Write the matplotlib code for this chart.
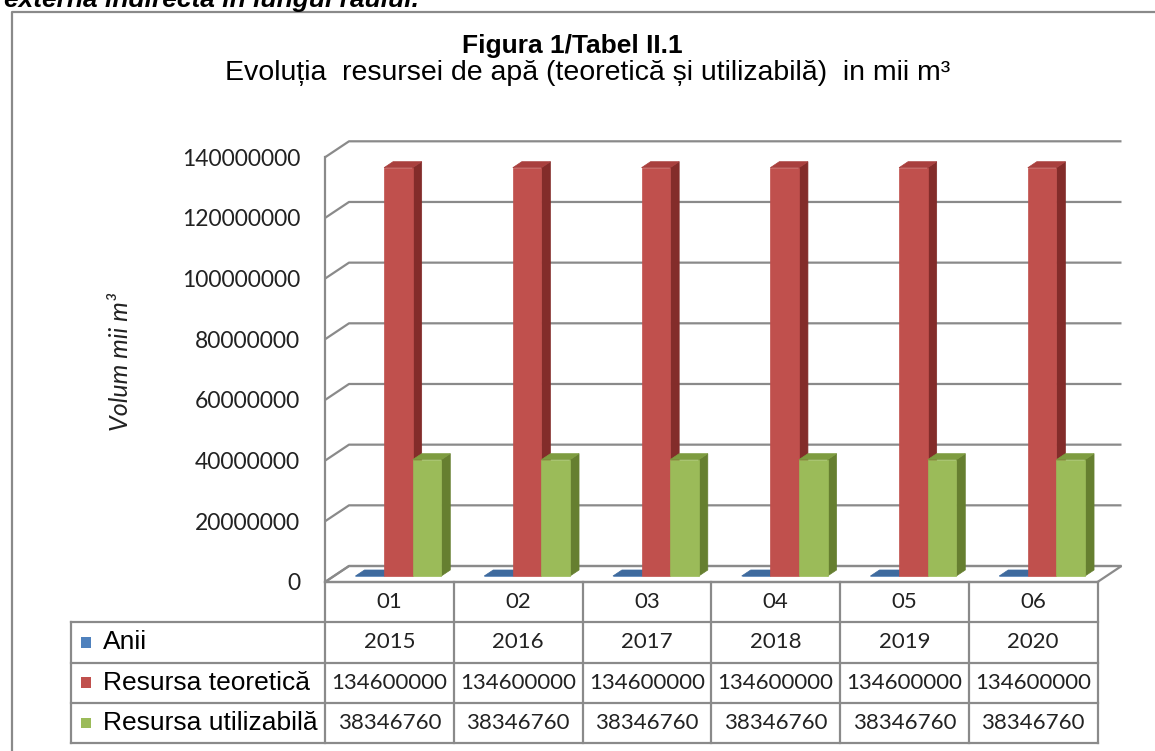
import matplotlib.pyplot as plt
from matplotlib.patches import Polygon, Rectangle

# date
categorii = ["01", "02", "03", "04", "05", "06"]
anii = [2015, 2016, 2017, 2018, 2019, 2020]
resursa_teoretica = [134600000, 134600000, 134600000, 134600000, 134600000, 134600000]
resursa_utilizabila = [38346760, 38346760, 38346760, 38346760, 38346760, 38346760]
serii = ["Anii", "Resursa teoretică", "Resursa utilizabilă"]
y_ticks = list(range(0, 140000001, 20000000))

# culori (fata, lateral, sus)
culori = [
    ("#4F81BD", "#385D8A", "#3E6A9E"),
    ("#C0504D", "#832C2A", "#A9403E"),
    ("#9BBB59", "#667F30", "#7E9C40"),
]
GRI = "#8a8a8a"

W, H = 1155, 751
fig = plt.figure(figsize=(W / 100, H / 100), dpi=100)


def fx(px):
    return px / W


def fy(py):
    return 1 - py / H


# chenarul exterior
fig.add_artist(plt.Line2D([fx(12), fx(12), fx(1160)], [fy(760), fy(12), fy(12)],
                          color=GRI, lw=1.6))
fig.text(fx(4), fy(7), "externă indirectă în lungul râului.", fontsize=19,
         family="Liberation Sans", style="italic", weight="bold", va="baseline")

# titlu
fig.text(fx(572), fy(46), "Figura 1/Tabel II.1", ha="center", va="center",
         fontsize=19, weight="bold", family=["Liberation Sans Narrow", "Liberation Sans"])
fig.text(fx(588), fy(73), "Evoluția  resursei de apă (teoretică și utilizabilă)  in mii m³",
         ha="center", va="center", fontsize=20.5, family="Liberation Sans")

# zona graficului 3D
X0, X1, Y0, YT = 325, 1097.5, 582, 157.3
ax = fig.add_axes([fx(X0), fy(Y0), fx(X1 - X0), (Y0 - YT) / H])
n = len(categorii)
ymax = y_ticks[-1]
ax.set_xlim(0, n)
ax.set_ylim(0, ymax)
ax.set_facecolor("none")
for s in ax.spines.values():
    s.set_visible(False)
ax.set_xticks([])
ax.set_yticks(y_ticks)
ax.set_yticklabels([str(v) for v in y_ticks], family="Lato", fontsize=16.5, color="#222222")
ax.tick_params(axis="y", length=0, pad=18)

# adancimea peretilor in unitati de date
px_x = (X1 - X0) / n
px_y = (Y0 - YT) / ymax
DX = 24 / px_x
DY = 16 / px_y

# podea
ax.add_patch(Polygon([(0, 0), (n, 0), (n + DX, DY), (DX, DY)], closed=True,
                     facecolor="white", edgecolor=GRI, lw=1.6, clip_on=False, zorder=1))
# linii de grila pe peretele lateral si cel din spate
for v in y_ticks:
    ax.plot([0, DX, n + DX], [v, v + DY, v + DY], color=GRI, lw=1.6,
            clip_on=False, zorder=1, solid_capstyle="butt")
ax.plot([0, 0], [0, ymax], color=GRI, lw=1.6, clip_on=False, zorder=1)


def bara3d(x0, w, v, d0, d1, c):
    ox0, oy0, ox1, oy1 = d0 * DX, d0 * DY, d1 * DX, d1 * DY
    fata = [(x0 + ox0, oy0), (x0 + w + ox0, oy0), (x0 + w + ox0, v + oy0), (x0 + ox0, v + oy0)]
    lat = [(x0 + w + ox0, oy0), (x0 + w + ox1, oy1), (x0 + w + ox1, v + oy1), (x0 + w + ox0, v + oy0)]
    sus = [(x0 + ox0, v + oy0), (x0 + w + ox0, v + oy0), (x0 + w + ox1, v + oy1), (x0 + ox1, v + oy1)]
    for pts, col in ((lat, c[1]), (fata, c[0]), (sus, c[2])):
        ax.add_patch(Polygon(pts, closed=True, facecolor=col, edgecolor=col, lw=0.5,
                             clip_on=False, zorder=3))


w = 1 / 4.5
valori = [anii, resursa_teoretica, resursa_utilizabila]
for i in range(n):
    for j, serie in enumerate(valori):
        x0 = i + 0.5 - 1.5 * w + j * w
        bara3d(x0, w, serie[i], 0.375, 0.75, culori[j])

fig.text(fx(121), fy(362), "Volum mii m³", rotation=90, ha="center", va="center",
         fontsize=18, family="Lato", style="italic", color="#222222")

# tabelul de date
TB = 743
tx = fig.add_axes([fx(X0), fy(TB), fx(X1 - X0), (TB - Y0) / H])
tx.set_xlim(0, n)
tx.set_ylim(4, 0)
tx.axis("off")
LX = (71 - X0) / px_x
tx.plot([0, n], [0, 0], color=GRI, lw=1.6, clip_on=False)
for r in range(1, 5):
    tx.plot([LX, n], [r, r], color=GRI, lw=1.6, clip_on=False)
for c in range(n + 1):
    tx.plot([c, c], [0, 4], color=GRI, lw=1.6, clip_on=False)
tx.plot([LX, LX], [1, 4], color=GRI, lw=1.6, clip_on=False)

for i, cat in enumerate(categorii):
    tx.text(i + 0.5, 0.5, cat, ha="center", va="center", family="Lato", fontsize=16,
            color="#222222")
for j, serie in enumerate(valori):
    for i in range(n):
        tx.text(i + 0.5, j + 1.5, str(serie[i]), ha="center", va="center", family="Lato",
                fontsize=16, color="#222222")
    kx = (81 - X0) / px_x
    tx.add_patch(Rectangle((kx, j + 1.5 - 0.13), 10 / px_x, 0.26, facecolor=culori[j][0],
                           edgecolor="none", clip_on=False))
    tx.text((103 - X0) / px_x, j + 1.5, serii[j], ha="left", va="center",
            family="Liberation Sans", fontsize=19, color="black")

fig.savefig("out.png", dpi=100)
